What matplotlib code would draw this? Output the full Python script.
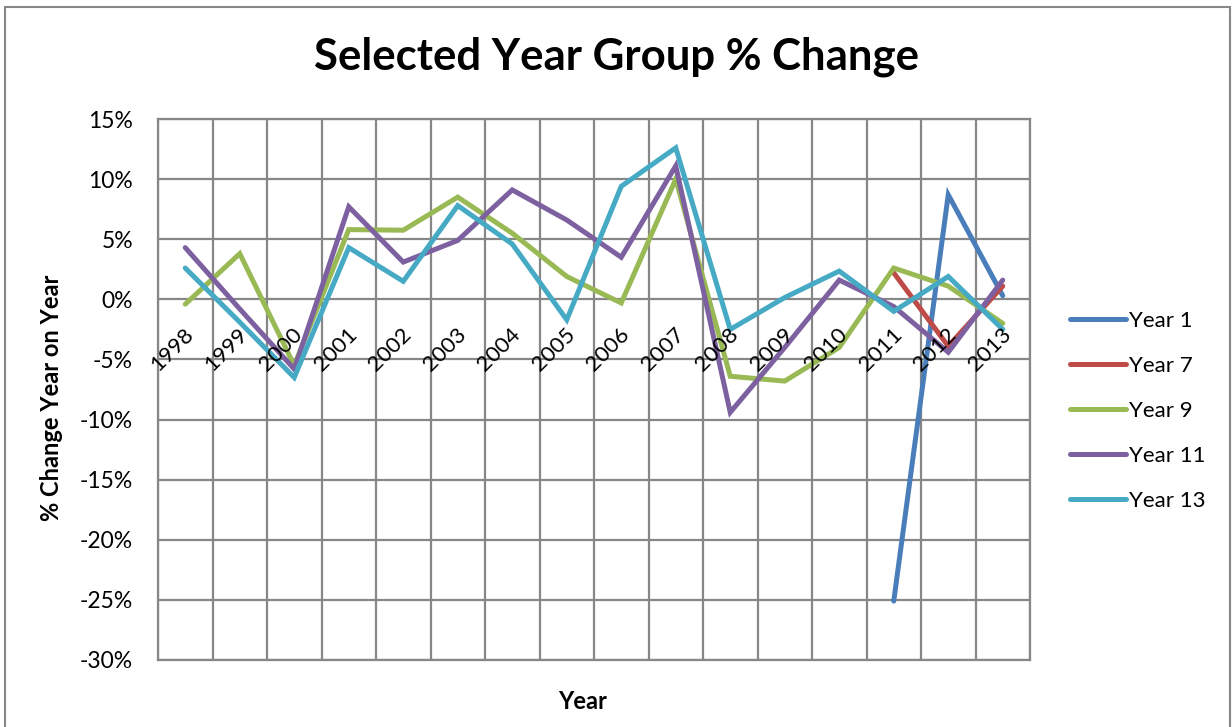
import matplotlib
matplotlib.use("Agg")
import matplotlib.pyplot as plt
from matplotlib.patches import Rectangle
import matplotlib.transforms as mtransforms
import numpy as np

plt.rcParams['font.family'] = ['Lato', 'DejaVu Sans']
plt.rcParams['ytick.major.pad'] = 18
plt.rcParams['ytick.major.size'] = 0
plt.rcParams['xtick.major.size'] = 0

years = ['1998', '1999', '2000', '2001', '2002', '2003', '2004', '2005',
         '2006', '2007', '2008', '2009', '2010', '2011', '2012', '2013']
nan = np.nan
year1 = [nan] * 13 + [-25.1, 8.7, 0.3]
year7 = [nan] * 13 + [2.2, -3.9, 1.1]
year9 = [-0.4, 3.8, -5.5, 5.8, 5.75, 8.5, 5.5, 1.9, -0.3, 10.0, -6.4, -6.8, -4.0, 2.6, 1.1, -2.0]
year11 = [4.3, -0.8, -5.8, 7.7, 3.1, 4.9, 9.1, 6.6, 3.5, 11.1, -9.4, -4.0, 1.6, -0.6, -4.4, 1.6]
year13 = [2.6, -1.9, -6.5, 4.3, 1.5, 7.8, 4.6, -1.7, 9.4, 12.6, -2.5, 0.15, 2.35, -1.0, 1.9, -2.5]

series_names = ['Year 1', 'Year 7', 'Year 9', 'Year 11', 'Year 13']
series_vals = [year1, year7, year9, year11, year13]
colors = ['#4A7EBB', '#BE4B48', '#98B954', '#7D60A0', '#46AAC5']
yticks = [15, 10, 5, 0, -5, -10, -15, -20, -25, -30]

W, H = 1232, 727
fig = plt.figure(figsize=(W / 100, H / 100), dpi=100)
fig.patch.set_facecolor('white')

left, right, top, bottom = 158, 1030, 119, 660
ax = fig.add_axes([left / W, 1 - bottom / H, (right - left) / W, (bottom - top) / H])

x = np.arange(len(years))
for name, vals, c in zip(series_names, series_vals, colors):
    ax.plot(x, vals, color=c, lw=3.6, label=name, solid_capstyle='round', solid_joinstyle='miter')

ax.set_xlim(-0.5, len(years) - 0.5)
ax.set_ylim(-30, 15)
ax.set_yticks(yticks)
ax.set_yticklabels([f'{v}%' for v in yticks], fontsize=16.5)
ax.set_xticks(np.arange(-0.5, len(years), 1.0))
ax.set_xticklabels([])
ax.grid(True, color='#878787', lw=1.6)
ax.set_axisbelow(True)
for s in ax.spines.values():
    s.set_color('#878787')
    s.set_linewidth(1.6)

# rotated category labels along the zero line
for i, yr in enumerate(years):
    off = mtransforms.offset_copy(ax.transData, fig=fig, x=-2, y=-25, units='dots')
    ax.text(i, 0, yr, transform=off, rotation=45, rotation_mode='anchor',
            ha='right', va='top', fontsize=16)

ax.set_xlabel('Year', fontsize=17, fontweight='bold')
ax.xaxis.set_label_coords((583 - left) / (right - left), -0.055)
fig.text(52 / W, 1 - 398 / H, '% Change Year on Year', rotation=90, fontsize=17,
         fontweight='bold', ha='center', va='center')

fig.text(617 / W, 1 - 57 / H, 'Selected Year Group % Change', fontsize=31.5,
         fontweight='bold', ha='center', va='center')

leg = fig.legend(loc='upper left', bbox_to_anchor=(1050 / W, 1 - 291 / H), frameon=False,
                 fontsize=16, handlelength=2.5, handletextpad=0.15, labelspacing=1.12)

fig.add_artist(Rectangle((5 / W, -0.05), (1230 - 5) / W, 1.05 - 7 / H, transform=fig.transFigure,
                         fill=False, edgecolor='#878787', lw=1.5))

fig.savefig('out.png', dpi=100)
